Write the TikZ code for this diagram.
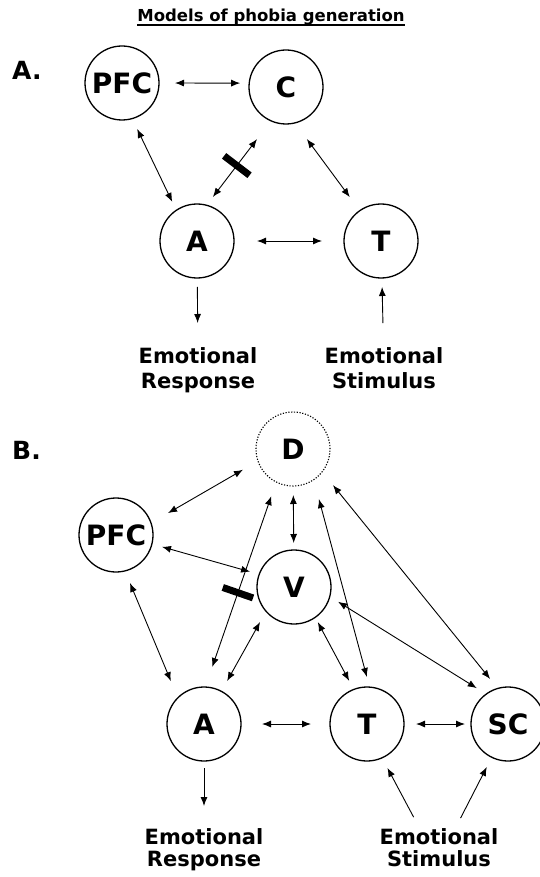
\documentclass[tikz,border=0pt]{standalone}
\usepackage{fontspec}
\setmainfont{DejaVu Sans}
\usetikzlibrary{arrows.meta}
\usetikzlibrary{shapes}

\begin{document}
\begin{tikzpicture}[x=1pt,y=-1pt]
                \tikzstyle{region}=[circle,draw,line width=1.3pt,minimum size=74pt,inner sep=0pt,outer sep=0pt,font=\bfseries\fontsize{28}{32}\selectfont]
                \tikzstyle{outcome}=[anchor=north,inner sep=0pt,align=center,font=\bfseries\fontsize{21}{24.4}\selectfont]
                \tikzstyle{panel}=[anchor=base west,inner sep=0pt,font=\bfseries\fontsize{25}{30}\selectfont]
                \tikzstyle{heading}=[anchor=base,inner sep=0pt,font=\bfseries\fontsize{16.5}{20}\selectfont]
                \tikzstyle{link}=[{Latex[length=9pt,width=7pt]}-{Latex[length=9pt,width=7pt]},line width=0.9pt]
                \tikzstyle{feed}=[-{Latex[length=9pt,width=7pt]},line width=0.9pt]
                \tikzstyle{block}=[sloped,rectangle,fill=black,minimum width=7pt,minimum height=32pt,inner sep=0pt]

                \useasboundingbox (0,0) rectangle (539,877);

                \node[heading] (title) at (271,22) {Models of phobia generation};
                \draw[line width=1.2pt] ([yshift=-3pt]title.base west) -- ([yshift=-3pt]title.base east);

                % A.
                \node[panel] (panelA) at (12,80) {A.};
                \node[region] (pfcA) at (122,83) {PFC};
                \node[region] (cA) at (286,87) {C};
                \node[region] (aA) at (197,241) {A};
                \node[region] (tA) at (381,241) {T};
                \node[outcome] (respA) at (198,347.5) {Emotional\\Response};
                \node[outcome] (stimA) at (384,347.5) {Emotional\\Stimulus};

                \draw[link,shorten <=16pt,shorten >=9pt] (pfcA.0) -- (cA.174);
                \draw[link,shorten <=11.5pt,shorten >=9.4pt] (pfcA.286) -- (aA.124);
                \draw[link,shorten <=23pt,shorten >=10.4pt] (cA.246) -- (aA.75) node[block,pos=0.53] (barA) {};
                \draw[link,shorten <=20pt,shorten >=16.8pt] (cA.284) -- (tA.125);
                \draw[link,shorten <=23pt,shorten >=22pt] (aA) -- (tA);
                \draw[feed,shorten <=9pt,shorten >=24.5pt] (aA) -- (respA);
                \draw[feed,shorten <=24.5pt,shorten >=9pt] (stimA) -- (tA);

                % B.
                \node[panel] (panelB) at (12,459) {B.};
                \node[region,line width=1.1pt,dash pattern=on 1.2pt off 1.6pt] (d) at (293,449) {D};
                \node[region] (pfcB) at (116,535) {PFC};
                \node[region] (v) at (294,587) {V};
                \node[region] (aB) at (204,724) {A};
                \node[region] (tB) at (367,724) {T};
                \node[region] (sc) at (508,724) {SC};
                \node[outcome,font=\bfseries\fontsize{21}{22}\selectfont] (respB) at (204,828.5) {Emotional\\Response};
                \node[outcome,font=\bfseries\fontsize{21}{22}\selectfont] (stimB) at (439,828.5) {Emotional\\Stimulus};

                \draw[link,shorten <=19.7pt,shorten >=17.4pt] (pfcB.19) -- (d.199);
                \draw[link,shorten <=10.5pt,shorten >=9.5pt] (pfcB.346) -- (v.160);
                \draw[link,shorten <=13.1pt,shorten >=18.1pt] (pfcB.284) -- (aB.135);
                \draw[link,shorten <=21.2pt,shorten >=15pt] (aB.88) -- (d.243) node[block,pos=0.46] (barB) {};
                \draw[link,shorten <=11.8pt,shorten >=12.3pt] (aB.62) -- (v.221);
                \draw[link,shorten <=9pt,shorten >=7pt] (d) -- (v);
                \draw[link,shorten <=20.1pt,shorten >=10.5pt] (d.304) -- (tB.86);
                \draw[link,shorten <=5.5pt,shorten >=9.7pt] (v.305) -- (tB.111);
                \draw[link,shorten <=9.8pt,shorten >=11.2pt] (v.345) -- (sc.126);
                \draw[link,shorten <=17.2pt,shorten >=12.2pt] (d.322) -- (sc.106);
                \draw[link,shorten <=21pt,shorten >=19pt] (aB) -- (tB);
                \draw[link,shorten <=12pt,shorten >=6pt] (tB) -- (sc);
                \draw[feed,shorten <=7pt,shorten >=22.5pt] (aB) -- (respB);
                \draw[feed,shorten <=12.9pt,shorten >=11.4pt] (stimB.135) -- (tB.294);
                \draw[feed,shorten <=11.7pt,shorten >=10.9pt] (stimB.50) -- (sc.244);
            \end{tikzpicture}
\end{document}
